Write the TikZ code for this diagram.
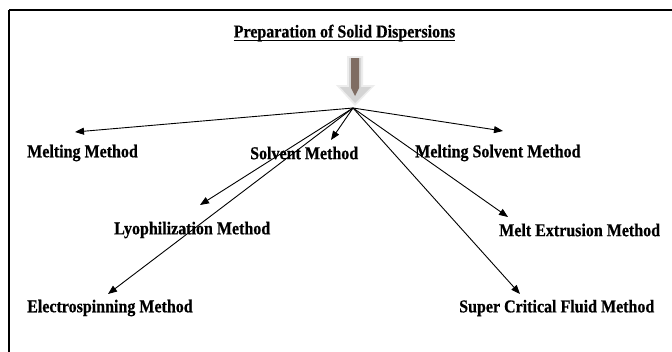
\documentclass[tikz,border=0pt]{standalone}
\usepackage{fontspec}
\usepackage{graphicx}
\setmainfont{Liberation Serif}[BoldFeatures={FakeBold=0.6}]
\usetikzlibrary{arrows.meta}
\definecolor{shaftc}{HTML}{7F6D63}
\definecolor{headc}{HTML}{D4D4D4}
\definecolor{rimc}{HTML}{EDEDED}
\newcommand{\tallt}[1]{\scalebox{1}[1.13]{#1}}
\tikzset{
  lbl/.style={anchor=west, inner sep=0pt, font=\fontsize{16}{18}\selectfont\bfseries},
  con/.style={line width=0.9pt, -{Triangle[length=9pt,width=7pt]}},
}
\begin{document}
\begin{tikzpicture}[x=1pt,y=-1pt]
\useasboundingbox (0,0) rectangle (672,351);
\fill[white] (0,0) rectangle (672,351);
% frame (extends past the right and bottom edges)
\draw[line width=2pt] (9,10) -- (680,10);
\draw[line width=2pt] (9,10) -- (9,360);
% title
\node[lbl, anchor=center] (title) at (344.5,33) {\tallt{Preparation of Solid Dispersions}};
\draw[line width=1.3pt] (title.south west) ++(0,-1) coordinate (ul1) -- (title.south east |- ul1);
% block arrow
\fill[rimc] (347,56) -- (363,56) -- (363,85) -- (375,85) -- (355,106) -- (336,85) -- (347,85) -- cycle;
\fill[headc] (349,58) -- (361,58) -- (361,87) -- (371,87) -- (355,103) -- (340,87) -- (349,87) -- cycle;
\fill[shaftc] (351,58) -- (359,58) -- (359,88) -- (355,96) -- (351,88) -- cycle;
\coordinate (hub) at (353,108);
% labels
\node[lbl] (mm) at (27,153) {\tallt{Melting Method}};
\node[lbl] (sm) at (250,153) {\tallt{Solvent Method}};
\node[lbl] (msm) at (415,153) {\tallt{Melting Solvent Method}};
\node[lbl] (lm) at (114,230) {\tallt{Lyophilization Method}};
\node[lbl] (mem) at (499,230) {\tallt{Melt Extrusion Method}};
\node[lbl] (em) at (27,308) {\tallt{Electrospinning Method}};
\node[lbl] (scf) at (459,308) {\tallt{Super Critical Fluid Method}};
% arrow tips
\coordinate (tmm) at (75,132);
\coordinate (tsm) at (331,140);
\coordinate (tmsm) at (503,131);
\coordinate (tlm) at (200,205);
\coordinate (tmem) at (508,217);
\coordinate (tem) at (108,294);
\coordinate (tscf) at (520,294);
% connectors
\draw[con] (hub) -- (tmm);
\draw[con] (hub) -- (tsm);
\draw[con] (hub) -- (tmsm);
\draw[con] (hub) -- (tlm);
\draw[con] (hub) -- (tmem);
\draw[con] (hub) -- (tem);
\draw[con] (hub) -- (tscf);
\end{tikzpicture}
\end{document}
